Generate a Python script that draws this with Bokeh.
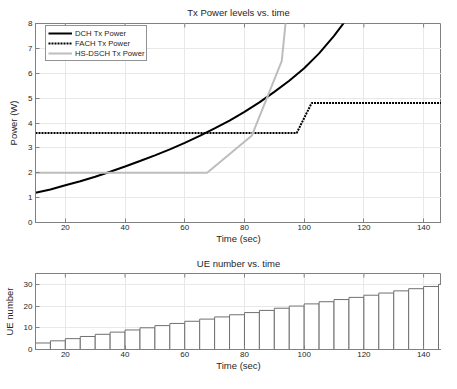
import numpy as np
from bokeh.plotting import figure
from bokeh.layouts import column
from bokeh.models import Range1d, FixedTicker, Legend, LegendItem, ColumnDataSource
from bokeh.embed import file_html
from bokeh.resources import INLINE

# ---- data ----
dch_time = [10, 15, 20, 25, 30, 35, 40, 45, 50, 55, 60, 65, 70, 75, 80, 85, 90, 95, 100, 105, 110, 115]
dch_power = [1.2, 1.33, 1.5, 1.66, 1.84, 2.04, 2.25, 2.47, 2.7, 2.94, 3.2, 3.48, 3.78, 4.1, 4.45, 4.83, 5.25, 5.7, 6.2, 6.8, 7.5, 8.3]
fach_time = [10, 97.5, 102.5, 150]
fach_power = [3.6, 3.6, 4.8, 4.8]
hs_time = [10, 67.5, 82.5, 92.5, 97.5]
hs_power = [2.0, 2.0, 3.5, 6.5, 12.5]

ue_time = [10, 15, 20, 25, 30, 35, 40, 45, 50, 55, 60, 65, 70, 75, 80, 85, 90, 95, 100,
           105, 110, 115, 120, 125, 130, 135, 140, 145]
ue_count = [3, 4, 5, 6, 7, 8, 9, 10, 11, 12, 13, 14, 15, 16, 17, 18, 19, 20, 21,
            22, 23, 24, 25, 26, 27, 28, 29, 30]
ue_width = 5

x_ticks = [20, 40, 60, 80, 100, 120, 140]
power_ticks = [0, 1, 2, 3, 4, 5, 6, 7, 8]
ue_ticks = [0, 10, 20, 30]

X_MIN, X_MAX = 10, 146
FONT = "Liberation Sans"
AX = "#808080"
TXT = "#262626"
GRID = "#e8e8e8"
W = 441


def style(p, yticks, ytop, title_valign):
    p.title.align = "center"
    p.title.vertical_align = title_valign
    p.title.text_font = FONT
    p.title.text_font_size = "9.5px"
    p.title.text_font_style = "normal"
    p.title.text_color = TXT
    p.outline_line_color = AX
    p.outline_line_width = 1
    for ax in (p.xaxis[0], p.yaxis[0]):
        ax.axis_line_color = AX
        ax.major_tick_line_color = AX
        ax.major_tick_in = 4
        ax.major_tick_out = 0
        ax.minor_tick_line_color = None
        ax.major_label_text_font = FONT
        ax.major_label_text_font_size = "8px"
        ax.major_label_text_color = TXT
        ax.axis_label_text_font = FONT
        ax.axis_label_text_font_size = "9.5px"
        ax.axis_label_text_font_style = "normal"
        ax.axis_label_text_color = TXT
    p.xaxis[0].ticker = FixedTicker(ticks=x_ticks)
    p.yaxis[0].ticker = FixedTicker(ticks=yticks)
    p.xaxis[0].major_label_standoff = 2
    p.xaxis[0].axis_label_standoff = 0
    p.yaxis[0].major_label_standoff = 3
    p.yaxis[0].axis_label_standoff = 6
    p.xgrid.grid_line_color = GRID
    p.ygrid.grid_line_color = GRID
    p.xgrid.ticker = FixedTicker(ticks=x_ticks)
    p.ygrid.ticker = FixedTicker(ticks=yticks)
    # inward tick marks along the top edge of the box
    p.ray(x=x_ticks, y=[ytop] * len(x_ticks), length=4, length_units="screen",
          angle=-np.pi / 2, line_color=AX, line_width=1)


# ---- top figure ----
p1 = figure(width=W, height=246, x_range=Range1d(X_MIN, X_MAX), y_range=Range1d(0, 8),
            output_backend="svg", toolbar_location=None,
            min_border_left=35, min_border_right=0, min_border_top=22, min_border_bottom=23,
            title="Tx Power levels vs. time", x_axis_label="Time (sec)", y_axis_label="Power (W)")
style(p1, power_ticks, 8, "middle")

r_dch = p1.line(dch_time, dch_power, line_color="black", line_width=2)
r_fach = p1.line(fach_time, fach_power, line_color="black", line_width=2, line_dash="2 1")
r_hs = p1.line(hs_time, hs_power, line_color="#bdbdbd", line_width=2)

legend = Legend(items=[LegendItem(label="DCH Tx Power", renderers=[r_dch]),
                       LegendItem(label="FACH Tx Power", renderers=[r_fach]),
                       LegendItem(label="HS-DSCH Tx Power", renderers=[r_hs])],
                location=(10, 161))
legend.label_text_font = FONT
legend.label_text_font_size = "7.7px"
legend.label_text_line_height = 1.0
legend.label_text_color = TXT
legend.label_height = 10
legend.glyph_height = 10
legend.glyph_width = 24
legend.label_standoff = 3
legend.spacing = 0
legend.padding = 2
legend.margin = 0
legend.border_line_color = TXT
legend.border_line_width = 1
legend.background_fill_color = "white"
legend.background_fill_alpha = 1
p1.add_layout(legend)

# ---- bottom figure ----
p2 = figure(width=W, height=127, x_range=Range1d(X_MIN, X_MAX), y_range=Range1d(0, 35),
            output_backend="svg", toolbar_location=None,
            min_border_left=35, min_border_right=0, min_border_top=27, min_border_bottom=21,
            title="UE number vs. time", x_axis_label="Time (sec)", y_axis_label="UE number")
style(p2, ue_ticks, 35, "bottom")

left = np.array(ue_time, dtype=float)
src = ColumnDataSource(dict(left=left, right=left + ue_width, top=ue_count))
p2.quad(left="left", right="right", bottom=0, top="top", source=src,
        fill_color="white", line_color="#707070", line_width=1)

layout = column(p1, p2, spacing=0)
open("out.html", "w").write(file_html(layout, INLINE))
